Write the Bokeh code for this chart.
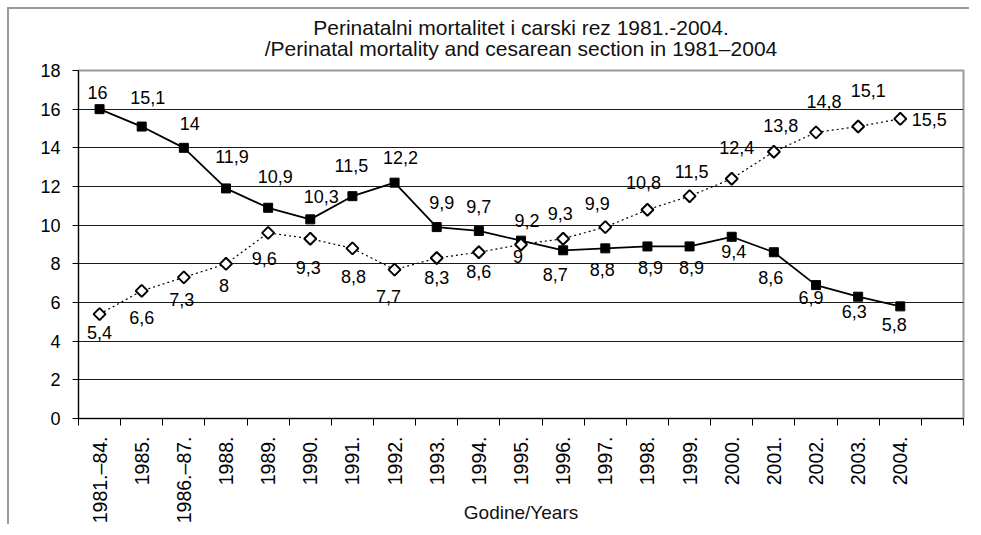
import math
from bokeh.plotting import figure
from bokeh.models import ColumnDataSource, FixedTicker, Range1d, LinearAxis
from bokeh.core.properties import value
from bokeh.embed import file_html
from bokeh.resources import INLINE

# ---------------- data ----------------
TITLE_1 = "Perinatalni mortalitet i carski rez 1981.-2004."
TITLE_2 = "/Perinatal mortality and cesarean section in 1981–2004"
X_TITLE = "Godine/Years"

YEARS = ["1981.–84.", "1985.", "1986.–87.", "1988.", "1989.", "1990.", "1991.",
         "1992.", "1993.", "1994.", "1995.", "1996.", "1997.", "1998.", "1999.",
         "2000.", "2001.", "2002.", "2003.", "2004."]

# perinatal mortality (solid line, filled squares)
MORTALITY = [16, 15.1, 14, 11.9, 10.9, 10.3, 11.5, 12.2, 9.9, 9.7, 9.2, 8.7,
             8.8, 8.9, 8.9, 9.4, 8.6, 6.9, 6.3, 5.8]
# cesarean section (dotted line, open diamonds)
CESAREAN = [5.4, 6.6, 7.3, 8, 9.6, 9.3, 8.8, 7.7, 8.3, 8.6, 9, 9.3, 9.9, 10.8,
            11.5, 12.4, 13.8, 14.8, 15.1, 15.5]

Y_TICKS = [0, 2, 4, 6, 8, 10, 12, 14, 16, 18]

# ---------------- label placement (screen px, style only) ----------------
MORT_DX = [-2, 6, 6, 6, 7, 11, -1, 6, 5, 0, 6, -8, -3, 3, 2, 2, -3, -5, -4, -6]
MORT_DY = [-17, -29, -24, -32, -31, -23, -31, -25, -25, -24, -20, 24, 21, 21, 21, 15, 25, 12, 15, 18]
CES_DX = [0, 0, -2, -2, -4, -2, 1, -6, 0, 0, -3, -3, -8, -4, 2, 5, 7, 8, 10, 29]
CES_DY = [18, 27, 22, 22, 26, 29, 28, 27, 19, 19, 12, -25, -24, -27, -25, -31, -26, -31, -36, 1]

FONT = "Liberation Sans"


def fmt(v):
    return f"{v:g}".replace(".", ",")


n = len(YEARS)
xs = [i + 0.5 for i in range(n)]
x_mid = (n + 1) / 2

p = figure(width=962, height=517, output_backend="svg", toolbar_location=None,
           x_range=Range1d(0, n + 1), y_range=Range1d(Y_TICKS[0], Y_TICKS[-1]),
           min_border_left=69, min_border_right=8, min_border_top=61,
           min_border_bottom=107, background_fill_color="white",
           border_fill_color="white")
p.styles = {"margin-left": "7px", "margin-top": "7px",
            "border-left": "2px solid #9a9a9a", "border-top": "2px solid #9a9a9a"}
p.title.visible = False

# bottom x axis: labels at category centres, ticks at boundaries
xa = p.below[0]
xa.ticker = FixedTicker(ticks=xs, minor_ticks=list(range(n + 2)))
xa.major_label_overrides = {x: lab for x, lab in zip(xs, YEARS)}
xa.major_label_orientation = math.pi / 2
xa.major_tick_line_color = None
xa.major_tick_out = 7
xa.major_tick_in = 0
xa.minor_tick_line_color = "black"
xa.minor_tick_out = 7
xa.minor_tick_in = 0
xa.major_label_standoff = 11
xa.major_label_text_font = FONT
xa.major_label_text_font_size = "19.5px"
xa.major_label_text_color = "black"
xa.axis_line_color = "black"
xa.axis_label = X_TITLE
xa.axis_label_text_font = FONT
xa.axis_label_text_font_size = "19px"
xa.axis_label_text_font_style = "normal"
xa.axis_label_text_color = "#111111"
xa.axis_label_standoff = -24

# two-line centred title: line 2 as the single tick label of an invisible
# top axis, line 1 as that axis' label
tax = LinearAxis(ticker=FixedTicker(ticks=[x_mid], minor_ticks=[]),
                 major_label_overrides={x_mid: TITLE_2},
                 axis_label=TITLE_1,
                 axis_line_color=None, major_tick_line_color=None,
                 minor_tick_line_color=None, major_tick_out=0, major_tick_in=0,
                 major_label_standoff=11, axis_label_standoff=-5,
                 major_label_text_font=FONT, major_label_text_font_size="21px",
                 major_label_text_color="#111111",
                 axis_label_text_font=FONT, axis_label_text_font_size="21px",
                 axis_label_text_font_style="normal",
                 axis_label_text_color="#111111")
p.add_layout(tax, "above")

p.outline_line_color = "#9a9a9a"
p.outline_line_width = 2

# y axis
p.yaxis.ticker = FixedTicker(ticks=Y_TICKS, minor_ticks=[])
p.yaxis.major_tick_out = 6
p.yaxis.major_tick_in = 0
p.yaxis.major_tick_line_color = "black"
p.yaxis.minor_tick_line_color = None
p.yaxis.major_label_standoff = 12
p.yaxis.major_label_text_font = FONT
p.yaxis.major_label_text_font_size = "18px"
p.yaxis.major_label_text_color = "black"
p.yaxis.axis_line_color = "black"

p.xgrid.grid_line_color = None
p.ygrid.ticker = FixedTicker(ticks=Y_TICKS)
p.ygrid.grid_line_color = "#1a1a1a"
p.ygrid.grid_line_width = 1

mort_src = ColumnDataSource(dict(x=xs, y=MORTALITY, label=[fmt(v) for v in MORTALITY],
                                 dx=MORT_DX, dy=MORT_DY))
ces_src = ColumnDataSource(dict(x=xs, y=CESAREAN, label=[fmt(v) for v in CESAREAN],
                                dx=CES_DX, dy=CES_DY))

p.line("x", "y", source=ces_src, line_color="black", line_width=1.2, line_dash="2 3")
p.line("x", "y", source=mort_src, line_color="black", line_width=1.8)

p.scatter("x", "y", source=mort_src, marker="square", size=9,
          fill_color="black", line_color="black")
p.scatter("x", "y", source=ces_src, marker="square", size=8.5, angle=math.pi / 4,
          fill_color="white", line_color="black", line_width=2)

for src in (mort_src, ces_src):
    p.text("x", "y", text="label", x_offset="dx", y_offset="dy", source=src,
           text_font=value(FONT), text_font_size="18px", text_color="black",
           text_align="center", text_baseline="middle")

open("out.html", "w").write(file_html(p, INLINE))
